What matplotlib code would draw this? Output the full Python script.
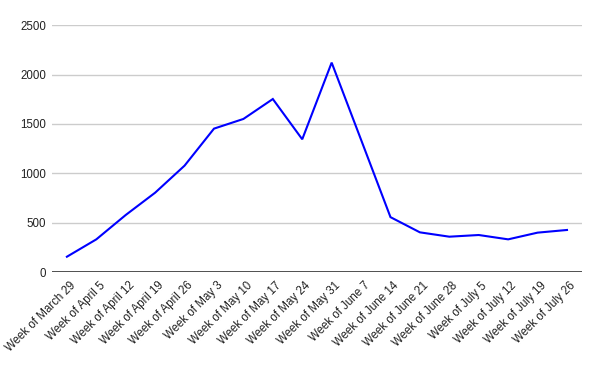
import matplotlib
matplotlib.use("Agg")
import matplotlib.pyplot as plt
import matplotlib.transforms as mtrans

# weekly values
weeks = ["Week of March 29", "Week of April 5", "Week of April 12", "Week of April 19",
         "Week of April 26", "Week of May 3", "Week of May 10", "Week of May 17",
         "Week of May 24", "Week of May 31", "Week of June 7", "Week of June 14",
         "Week of June 21", "Week of June 28", "Week of July 5", "Week of July 12",
         "Week of July 19", "Week of July 26"]
values = [155, 331, 578, 804, 1078, 1453, 1551, 1753, 1345, 2122,
          1340, 556, 402, 358, 375, 331, 399, 426]
yticks = [0, 500, 1000, 1500, 2000, 2500]

plt.rcParams['font.family'] = ['Liberation Sans', 'DejaVu Sans']

fig = plt.figure(figsize=(6, 3.71), dpi=100)
ax = fig.add_axes([0.087, 0.2668, 0.8825, 0.665])

x = list(range(len(weeks)))
ax.plot(x, values, color='#0000ff', lw=1.5, solid_joinstyle='miter', zorder=3)

ax.set_xlim(-0.5, len(weeks) - 0.5)
ax.set_ylim(0, 2500)
ax.set_yticks(yticks)
ax.set_yticklabels([str(v) for v in yticks])
ax.grid(axis='y', color='#cccccc', lw=1)
ax.axhline(0, color='#333333', lw=1.2, zorder=2)
for s in ax.spines.values():
    s.set_visible(False)

ax.tick_params(axis='y', length=0, pad=4.3, labelsize=8.3, labelcolor='#222222')
ax.tick_params(axis='x', length=0, pad=5.5, labelsize=8.3, labelcolor='#222222')
ax.set_xticks(x)
ax.set_xticklabels(weeks, rotation=45, ha='right', va='top', rotation_mode='anchor')
# nudge the rotated labels so their ends sit just right of each point
shift = mtrans.ScaledTranslation(2.5 / 100, 0, fig.dpi_scale_trans)
for lbl in ax.get_xticklabels():
    lbl.set_transform(lbl.get_transform() + shift)

fig.savefig("out.png", dpi=100)
